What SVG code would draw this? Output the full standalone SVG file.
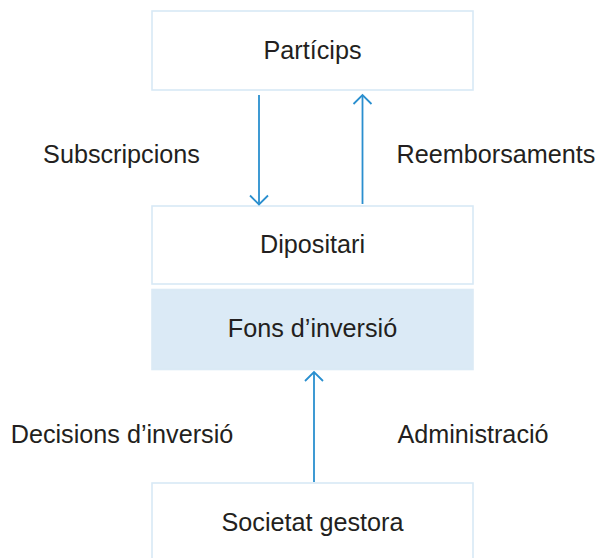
<svg xmlns="http://www.w3.org/2000/svg" width="598" height="558" viewBox="0 0 598 558">
  <style>
    .box { fill: #ffffff; stroke: #d8e9f6; stroke-width: 1.6; }
    .box.fill { fill: #dbeaf6; stroke: #dbeaf6; }
    .lbl { font-family: "Liberation Sans", Arial, sans-serif; font-size: 25.2px; fill: #231f20; text-anchor: middle; }
    .conn { stroke: #2a8fcf; stroke-width: 1.8; fill: none; }
  </style>
  <defs>
    <marker id="arr" viewBox="-11 -11 13 22" refX="0" refY="0" markerWidth="13" markerHeight="22" markerUnits="userSpaceOnUse" orient="auto">
      <path d="M-9,-9 L0,0 L-9,9" fill="none" stroke="#2a8fcf" stroke-width="1.8"/>
    </marker>
  </defs>
  <rect width="598" height="558" fill="#ffffff"/>
  <g id="node-particips">
    <rect class="box" x="152" y="11" width="321" height="79"/>
    <text class="lbl" x="312.5" y="59">Partícips</text>
  </g>
  <g id="node-dipositari">
    <rect class="box" x="152" y="206" width="321" height="78"/>
    <text class="lbl" x="312.5" y="253">Dipositari</text>
  </g>
  <g id="node-fons">
    <rect class="box fill" x="152" y="289.5" width="321" height="80"/>
    <text class="lbl" x="312.5" y="337">Fons d’inversió</text>
  </g>
  <g id="node-societat">
    <rect class="box" x="152" y="483" width="321" height="80"/>
    <text class="lbl" x="312.5" y="531">Societat gestora</text>
  </g>
  <g id="connectors">
    <line class="conn" x1="259" y1="95" x2="259" y2="204.5" marker-end="url(#arr)"/>
    <line class="conn" x1="362.5" y1="204" x2="362.5" y2="95" marker-end="url(#arr)"/>
    <line class="conn" x1="314" y1="482" x2="314" y2="372" marker-end="url(#arr)"/>
    <text class="lbl" x="121.5" y="163">Subscripcions</text>
    <text class="lbl" x="496" y="163">Reemborsaments</text>
    <text class="lbl" x="122" y="443">Decisions d’inversió</text>
    <text class="lbl" x="473" y="443">Administració</text>
  </g>
</svg>
